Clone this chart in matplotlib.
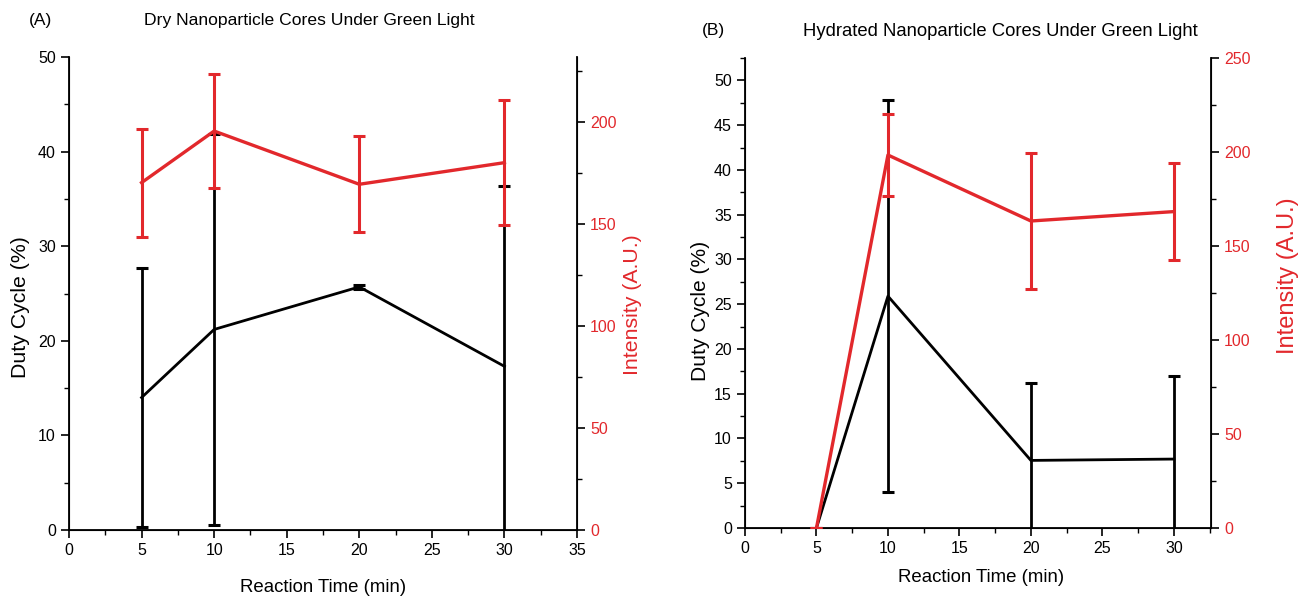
import matplotlib
matplotlib.use("Agg")
import matplotlib.pyplot as plt
from matplotlib.ticker import MultipleLocator

plt.rcParams['font.family'] = ['Liberation Sans', 'DejaVu Sans']

# Panel A data (dry)
time_a = [5, 10, 20, 30]
duty_a = [14.0, 21.2, 25.7, 17.3]
duty_err_a = [13.7, 20.7, 0.2, 19.1]
inten_a = [170.3, 195.6, 169.5, 180.1]
inten_err_a = [26.5, 28.1, 23.5, 30.5]

# Panel B data (hydrated)
time_b = [5, 10, 20, 30]
duty_b = [0.0, 25.9, 7.55, 7.7]
duty_err_b = [0.0, 21.9, 8.7, 9.3]
inten_b = [0.0, 198.4, 163.3, 168.3]
inten_err_b = [0.0, 22.0, 36.2, 25.6]

xticks_a = [0, 5, 10, 15, 20, 25, 30, 35]
xticks_b = [0, 5, 10, 15, 20, 25, 30]

RED = '#e2282c'
W, H = 1302, 600
fig = plt.figure(figsize=(13.02, 6.0), dpi=100)

def box(l, r, t, b):
    return [l / W, 1 - b / H, (r - l) / W, (b - t) / H]

def px(x, y):
    return x / W, 1 - y / H

def style(ax, ax2):
    for a in (ax, ax2):
        a.tick_params(which='major', direction='out', length=6, width=1.2, labelsize=11.5)
        a.tick_params(which='minor', direction='out', length=3.5, width=1.0)
    ax.spines['top'].set_visible(False)
    ax2.spines['top'].set_visible(False)
    for s in ('left', 'bottom'):
        ax.spines[s].set_linewidth(1.3)
    ax2.spines['right'].set_linewidth(1.3)
    ax2.tick_params(axis='y', labelcolor=RED)

def draw(ax, ax2, t, d, de, it, ie):
    ax.errorbar(t, d, yerr=de, color='black', lw=2.0, elinewidth=2.0,
                capsize=4, capthick=2.2, zorder=3)
    ax2.errorbar(t, it, yerr=ie, color=RED, lw=2.4, elinewidth=2.2,
                 capsize=4, capthick=2.2, zorder=3)

# Panel A
axA = fig.add_axes(box(69, 577, 57, 530))
axA2 = axA.twinx()
draw(axA, axA2, time_a, duty_a, duty_err_a, inten_a, inten_err_a)
axA.set_xlim(0, 35)
axA.set_ylim(0, 50)
axA2.set_ylim(0, 231.9)
axA.set_xticks(xticks_a)
axA.xaxis.set_minor_locator(MultipleLocator(2.5))
axA.yaxis.set_major_locator(MultipleLocator(10))
axA.yaxis.set_minor_locator(MultipleLocator(5))
axA2.yaxis.set_major_locator(MultipleLocator(50))
axA2.yaxis.set_minor_locator(MultipleLocator(25))
style(axA, axA2)
fig.text(*px(323, 588), 'Reaction Time (min)', fontsize=13.4, ha='center', va='center')
fig.text(*px(21, 307), 'Duty Cycle (%)', fontsize=15.3, rotation=90, ha='center', va='center')
fig.text(*px(633, 305), 'Intensity (A.U.)', fontsize=15.3, rotation=90, color=RED,
         ha='center', va='center')
fig.text(*px(40, 20), '(A)', fontsize=12.5, ha='center', va='center')
fig.text(*px(309, 20), 'Dry Nanoparticle Cores Under Green Light',
         fontsize=12.6, ha='center', va='center')

# Panel B
axB = fig.add_axes(box(745, 1211, 58, 528))
axB2 = axB.twinx()
draw(axB, axB2, time_b, duty_b, duty_err_b, inten_b, inten_err_b)
axB.set_xlim(0, 32.6)
axB.set_ylim(0, 52.5)
axB2.set_ylim(0, 250)
axB.set_xticks(xticks_b)
axB.xaxis.set_minor_locator(MultipleLocator(2.5))
axB.yaxis.set_major_locator(MultipleLocator(5))
axB.yaxis.set_minor_locator(MultipleLocator(2.5))
axB2.yaxis.set_major_locator(MultipleLocator(50))
axB2.yaxis.set_minor_locator(MultipleLocator(25))
style(axB, axB2)
fig.text(*px(981, 578), 'Reaction Time (min)', fontsize=13.4, ha='center', va='center')
fig.text(*px(701, 311), 'Duty Cycle (%)', fontsize=15.1, rotation=90, ha='center', va='center')
fig.text(*px(1288, 276), 'Intensity (A.U.)', fontsize=17, rotation=90, color=RED,
         ha='center', va='center')
fig.text(*px(713, 30), '(B)', fontsize=12.5, ha='center', va='center')
fig.text(*px(1000, 31), 'Hydrated Nanoparticle Cores Under Green Light',
         fontsize=13.3, ha='center', va='center')

fig.savefig('out.png', dpi=100)
